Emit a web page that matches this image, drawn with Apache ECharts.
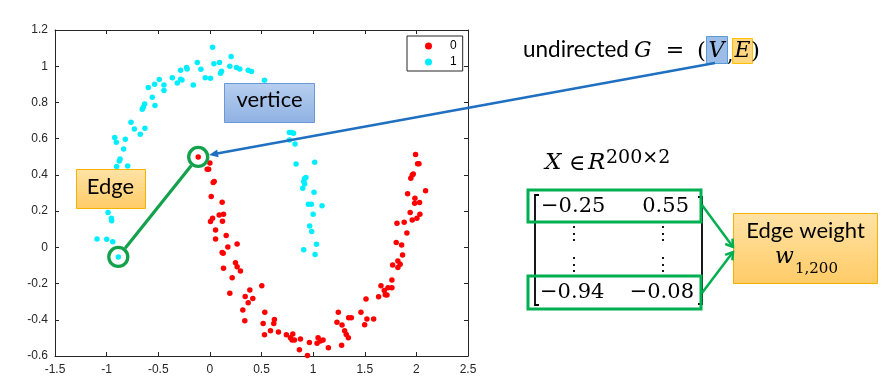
<!DOCTYPE html>
<html><head><meta charset="utf-8">
<script src="https://cdn.jsdelivr.net/npm/echarts@6/dist/echarts.min.js"></script>
<style>html,body{margin:0;padding:0;background:#fff}#c{width:895px;height:389px}</style>
</head><body><div id="c"></div>
<script>
// ---- data ----
const seriesNames = ['0', '1'];
const class0 = [
  [-0.113,0.499],[0.000,0.466],[-0.026,0.431],[-0.012,0.431],[0.042,0.363],[0.032,0.358],
  [0.013,0.280],[0.119,0.249],[0.090,0.179],[0.132,0.182],[0.122,0.144],[0.026,0.160],
  [0.006,0.142],[0.055,0.096],[0.055,0.046],[0.158,0.066],[0.264,0.018],[0.174,0.002],
  [0.119,-0.028],[0.129,-0.033],[0.132,-0.116],[0.216,-0.168],[0.248,-0.085],[0.264,-0.107],
  [0.296,-0.131],[0.193,-0.254],[0.387,-0.236],[0.342,-0.271],[0.416,-0.282],[0.371,-0.306],
  [0.319,-0.346],[0.338,-0.405],[0.503,-0.212],[0.532,-0.359],[0.516,-0.420],[0.529,-0.483],
  [0.625,-0.398],[0.619,-0.420],[0.587,-0.460],[0.664,-0.468],[0.741,-0.483],[0.803,-0.479],
  [0.780,-0.499],[0.796,-0.512],[0.819,-0.512],[0.877,-0.506],[0.867,-0.565],[0.945,-0.597],
  [0.964,-0.525],[1.038,-0.530],[1.048,-0.499],[1.070,-0.517],[1.096,-0.512],[1.148,-0.554],
  [1.244,-0.359],[1.231,-0.413],[1.280,-0.429],[1.305,-0.460],[1.321,-0.481],[1.341,-0.499],
  [1.276,-0.541],[1.344,-0.389],[1.370,-0.389],[1.463,-0.359],[1.512,-0.285],[1.499,-0.427],
  [1.521,-0.396],[1.586,-0.396],[1.634,-0.273],[1.657,-0.212],[1.689,-0.239],[1.699,-0.262],
  [1.715,-0.263],[1.725,-0.223],[1.763,-0.223],[1.763,-0.180],[1.770,-0.098],[1.821,-0.112],
  [1.821,-0.076],[1.843,-0.094],[1.866,-0.042],[1.857,0.013],[1.805,0.026],[1.908,0.079],
  [1.882,0.138],[1.812,0.133],[1.940,0.192],[1.960,0.151],[2.005,0.160],[2.034,0.182],
  [1.983,0.243],[2.031,0.247],[1.915,0.296],[1.986,0.271],[2.089,0.313],[1.946,0.381],
  [1.960,0.400],[1.970,0.405],[2.012,0.462],[2.025,0.462],[1.992,0.512]
];
const class1 = [
  [0.026,1.105],[0.206,1.053],[-0.122,1.020],[0.039,1.013],[0.093,1.020],[0.193,1.000],
  [0.258,0.993],[0.290,0.985],[0.113,0.972],[0.103,0.961],[0.371,0.978],[0.403,0.971],
  [-0.087,0.983],[-0.226,0.993],[-0.220,0.985],[-0.284,0.978],[-0.364,0.937],[-0.316,0.908],
  [-0.284,0.928],[-0.270,0.924],[-0.045,0.937],[0.006,0.934],[-0.161,0.897],[0.529,0.923],
  [-0.490,0.926],[-0.445,0.897],[-0.535,0.900],[-0.445,0.866],[-0.596,0.882],[-0.558,0.829],
  [-0.532,0.783],[-0.632,0.792],[-0.645,0.773],[-0.655,0.762],[-0.764,0.691],[-0.732,0.654],
  [-0.674,0.624],[-0.629,0.657],[-0.922,0.606],[-0.906,0.580],[-0.819,0.597],[-0.835,0.543],
  [-0.870,0.488],[-0.877,0.477],[-0.903,0.446],[-0.796,0.449],[-0.986,0.193],[-0.954,0.160],
  [-0.951,0.147],[-1.093,0.046],[-0.999,0.044],[-0.941,0.031],[-0.887,-0.053],
  [0.770,0.634],[0.793,0.634],[0.810,0.630],[0.770,0.593],[0.825,0.571],[0.835,0.460],
  [1.015,0.470],[0.916,0.378],[0.930,0.385],[0.909,0.363],[0.918,0.350],[0.899,0.326],
  [1.009,0.304],[0.954,0.238],[0.983,0.238],[1.086,0.230],[1.000,0.182],[0.967,0.118],
  [0.986,0.088],[0.909,-0.013],[1.032,0.017],[1.019,-0.039]
];
// the two vertices joined by the highlighted edge (rows 1 and 200 of X)
const edgePair = [[-0.887, -0.053], [-0.113, 0.499]];
const matrixRow1 = ['\u22120.25', '0.55'];
const matrixRow200 = ['\u22120.94', '\u22120.08'];

const fmt = v => String(Math.round(v * 10) / 10);
const axisCol = '#262626';

const chart = echarts.init(document.getElementById('c'), null, {renderer: 'canvas'});

const xBase = {
  type: 'value', min: -1.5, max: 2.5, interval: 0.5,
  axisLine: {show: true, onZero: false, lineStyle: {color: axisCol, width: 1}},
  axisTick: {show: true, inside: true, length: 4, lineStyle: {color: axisCol}},
  splitLine: {show: false}
};
const yBase = {
  type: 'value', min: -0.6, max: 1.2, interval: 0.2,
  axisLine: {show: true, onZero: false, lineStyle: {color: axisCol, width: 1}},
  axisTick: {show: true, inside: true, length: 4, lineStyle: {color: axisCol}},
  splitLine: {show: false}
};

chart.setOption({
  animation: false,
  backgroundColor: '#fff',
  grid: {left: 55, right: 427, top: 30, bottom: 33, containLabel: false},
  xAxis: [
    Object.assign({}, xBase, {position: 'bottom',
      axisLabel: {show: true, formatter: fmt, color: axisCol, fontSize: 12, fontFamily: 'Liberation Sans', margin: 8}}),
    Object.assign({}, xBase, {position: 'top', axisLabel: {show: false}})
  ],
  yAxis: [
    Object.assign({}, yBase, {position: 'left',
      axisLabel: {show: true, formatter: fmt, color: axisCol, fontSize: 12, fontFamily: 'Liberation Sans', margin: 7}}),
    Object.assign({}, yBase, {position: 'right', axisLabel: {show: false}})
  ],
  legend: {
    show: true, orient: 'vertical', left: 407, top: 36,
    data: seriesNames,
    icon: 'circle', itemWidth: 7, itemHeight: 7, itemGap: 4,
    padding: [4, 6, 3, 18],
    borderColor: axisCol, borderWidth: 1, backgroundColor: '#fff',
    textStyle: {fontSize: 12, color: '#000', fontFamily: 'Liberation Sans', padding: [0, 0, 0, 13]}
  },
  series: [
    {name: seriesNames[0], type: 'scatter', data: class0, symbolSize: 5.5,
     itemStyle: {color: '#ff0000', opacity: 1}, xAxisIndex: 0, yAxisIndex: 0},
    {name: seriesNames[1], type: 'scatter', data: class1, symbolSize: 5.5,
     itemStyle: {color: '#00eeff', opacity: 1}, xAxisIndex: 0, yAxisIndex: 0}
  ]
});

// ---- annotations ----
const pA = chart.convertToPixel({gridIndex: 0}, edgePair[0]);
const pB = chart.convertToPixel({gridIndex: 0}, edgePair[1]);
const R = 9.5;
const green = '#13a24b';
const green2 = '#00b050';
const blue = '#1f70c1';

function towards(p, q, d) { const dx = q[0]-p[0], dy = q[1]-p[1], L = Math.hypot(dx, dy); return [p[0]+dx/L*d, p[1]+dy/L*d]; }
function arrowHead(tip, from, len, half, color, filled) {
  const dx = tip[0]-from[0], dy = tip[1]-from[1], L = Math.hypot(dx, dy);
  const ux = dx/L, uy = dy/L;
  const bx = tip[0]-ux*len, by = tip[1]-uy*len;
  const p1 = [bx - uy*half, by + ux*half], p2 = [bx + uy*half, by - ux*half];
  if (filled) return {type: 'polygon', z: 110, shape: {points: [tip, p1, p2]}, style: {fill: color}};
  return {type: 'polyline', z: 110, shape: {points: [p1, tip, p2]}, style: {stroke: color, lineWidth: 2.5, fill: null}};
}

const eA = towards(pA, pB, R + 1.5), eB = towards(pB, pA, R + 1.5);
const arrowStart = [715, 63];
const arrowTip = towards(pB, arrowStart, R + 1.5);
const arrowBase = towards(arrowTip, arrowStart, 8);

const serif = '"DejaVu Serif"';
const sans = 'Lato';
const els = [
  // vertice box
  {type: 'rect', z: 90, shape: {x: 224.5, y: 83.5, width: 90, height: 39},
   style: {fill: new echarts.graphic.LinearGradient(0, 0, 0, 1, [{offset: 0, color: '#b7cff0'}, {offset: 1, color: '#8fb1e2'}]), stroke: '#6a98d8', lineWidth: 1}},
  {type: 'text', z: 91, style: {text: 'vertice', x: 269.5, y: 111, textAlign: 'center', textVerticalAlign: 'bottom', font: '22px ' + sans, fill: '#000'}},
  // Edge box
  {type: 'rect', z: 90, shape: {x: 76.5, y: 169.5, width: 69, height: 39},
   style: {fill: new echarts.graphic.LinearGradient(0, 0, 0, 1, [{offset: 0, color: '#ffe3a6'}, {offset: 1, color: '#ffcb66'}]), stroke: '#f5b300', lineWidth: 1}},
  {type: 'text', z: 91, style: {text: 'Edge', x: 110.5, y: 198, textAlign: 'center', textVerticalAlign: 'bottom', font: '22px ' + sans, fill: '#000'}},
  // edge line and circles
  {type: 'line', z: 100, shape: {x1: eA[0], y1: eA[1], x2: eB[0], y2: eB[1]}, style: {stroke: green, lineWidth: 3.2}},
  {type: 'circle', z: 101, shape: {cx: pA[0], cy: pA[1], r: R}, style: {fill: null, stroke: green, lineWidth: 3.3}},
  {type: 'circle', z: 101, shape: {cx: pB[0], cy: pB[1], r: R}, style: {fill: null, stroke: green, lineWidth: 3.3}},
  // blue arrow
  {type: 'line', z: 105, shape: {x1: arrowStart[0], y1: arrowStart[1], x2: arrowBase[0], y2: arrowBase[1]}, style: {stroke: blue, lineWidth: 2.5}},
  arrowHead(arrowTip, arrowStart, 9, 4, blue, true),
  // undirected G = (V,E)
  {type: 'rect', z: 80, shape: {x: 706.5, y: 36.5, width: 21, height: 27}, style: {fill: '#9dbde9', stroke: '#5b9bd5', lineWidth: 1}},
  {type: 'rect', z: 80, shape: {x: 732.5, y: 38.5, width: 20, height: 25}, style: {fill: '#ffd780', stroke: '#ffc000', lineWidth: 1}},
  {type: 'text', z: 81, style: {text: 'undirected', x: 523, y: 61.5, textVerticalAlign: 'bottom', font: '22.5px ' + sans, fill: '#000'}},
  {type: 'text', z: 81, style: {text: 'G', x: 634, y: 62, textVerticalAlign: 'bottom', font: 'italic 22px ' + serif, fill: '#000'}},
  {type: 'text', z: 81, style: {text: '=', x: 675, y: 62, textAlign: 'center', textVerticalAlign: 'bottom', font: '22px ' + serif, fill: '#000'}},
  {type: 'text', z: 81, style: {text: '(', x: 697, y: 64, textVerticalAlign: 'bottom', font: '23px ' + serif, fill: '#000'}},
  {type: 'text', z: 81, style: {text: 'V', x: 716.5, y: 62, textAlign: 'center', textVerticalAlign: 'bottom', font: 'italic 22px ' + serif, fill: '#000'}},
  {type: 'text', z: 82, style: {text: ',', x: 727, y: 66, textVerticalAlign: 'bottom', font: '20px ' + serif, fill: '#000'}},
  {type: 'text', z: 81, style: {text: 'E', x: 742.5, y: 62, textAlign: 'center', textVerticalAlign: 'bottom', font: 'italic 22px ' + serif, fill: '#000'}},
  {type: 'text', z: 81, style: {text: ')', x: 751, y: 64, textVerticalAlign: 'bottom', font: '23px ' + serif, fill: '#000'}},
  // X in R^{200x2}
  {type: 'text', z: 81, style: {text: 'X', x: 545, y: 175, textVerticalAlign: 'bottom', font: 'italic 23px ' + serif, fill: '#000'}},
  {type: 'text', z: 81, style: {text: '\u2208', x: 569, y: 175, textVerticalAlign: 'bottom', font: '22px ' + serif, fill: '#000'}},
  {type: 'text', z: 81, style: {text: 'R', x: 588, y: 175, textVerticalAlign: 'bottom', font: 'italic 23px ' + serif, fill: '#000'}},
  {type: 'text', z: 81, style: {text: '200\u00d72', x: 606, y: 168, textVerticalAlign: 'bottom', font: '19px ' + serif, fill: '#000'}},
  // matrix brackets
  {type: 'polyline', z: 81, shape: {points: [[539, 195], [535, 195], [535, 305], [539, 305]]}, style: {stroke: '#000', lineWidth: 1.8, fill: null}},
  {type: 'polyline', z: 81, shape: {points: [[698, 197], [702, 197], [702, 304], [698, 304]]}, style: {stroke: '#000', lineWidth: 1.8, fill: null}},
  {type: 'text', z: 81, style: {text: matrixRow1[0], x: 541, y: 217, textVerticalAlign: 'bottom', font: '21px ' + serif, fill: '#000'}},
  {type: 'text', z: 81, style: {text: matrixRow1[1], x: 689, y: 217, textAlign: 'right', textVerticalAlign: 'bottom', font: '21px ' + serif, fill: '#000'}},
  {type: 'text', z: 81, style: {text: '\u22ee', x: 574, y: 243, textAlign: 'center', textVerticalAlign: 'bottom', font: '18px ' + serif, fill: '#000'}},
  {type: 'text', z: 81, style: {text: '\u22ee', x: 663, y: 243, textAlign: 'center', textVerticalAlign: 'bottom', font: '18px ' + serif, fill: '#000'}},
  {type: 'text', z: 81, style: {text: '\u22ee', x: 574, y: 274, textAlign: 'center', textVerticalAlign: 'bottom', font: '18px ' + serif, fill: '#000'}},
  {type: 'text', z: 81, style: {text: '\u22ee', x: 663, y: 274, textAlign: 'center', textVerticalAlign: 'bottom', font: '18px ' + serif, fill: '#000'}},
  {type: 'text', z: 81, style: {text: matrixRow200[0], x: 540, y: 303, textVerticalAlign: 'bottom', font: '21px ' + serif, fill: '#000'}},
  {type: 'text', z: 81, style: {text: matrixRow200[1], x: 694, y: 303, textAlign: 'right', textVerticalAlign: 'bottom', font: '21px ' + serif, fill: '#000'}},
  // row highlight boxes
  {type: 'rect', z: 82, shape: {x: 528, y: 190, width: 173, height: 32}, style: {fill: null, stroke: green2, lineWidth: 3}},
  {type: 'rect', z: 82, shape: {x: 528, y: 276, width: 173, height: 33}, style: {fill: null, stroke: green2, lineWidth: 3}},
  // green arrows to edge weight
  {type: 'line', z: 82, shape: {x1: 702, y1: 205, x2: 733, y2: 247}, style: {stroke: green2, lineWidth: 2.5}},
  {type: 'line', z: 82, shape: {x1: 702, y1: 293, x2: 733, y2: 252}, style: {stroke: green2, lineWidth: 2.5}},
  arrowHead([733, 247], [702, 205], 7, 4.5, green2, false),
  arrowHead([733, 252], [702, 293], 7, 4.5, green2, false),
  // Edge weight box
  {type: 'rect', z: 83, shape: {x: 733.5, y: 213.5, width: 144, height: 70},
   style: {fill: new echarts.graphic.LinearGradient(0, 0, 0, 1, [{offset: 0, color: '#ffe3a6'}, {offset: 1, color: '#ffcb66'}]), stroke: '#f5b300', lineWidth: 1}},
  {type: 'text', z: 84, style: {text: 'Edge weight', x: 805.5, y: 242, textAlign: 'center', textVerticalAlign: 'bottom', font: '22px ' + sans, fill: '#000'}},
  {type: 'text', z: 84, style: {text: 'w', x: 775, y: 268, textVerticalAlign: 'bottom', font: 'italic 22px ' + serif, fill: '#000'}},
  {type: 'text', z: 84, style: {text: '1,200', x: 795, y: 277, textVerticalAlign: 'bottom', font: '15px ' + serif, fill: '#000'}}
];
chart.setOption({graphic: {elements: els}});
</script>
</body></html>
